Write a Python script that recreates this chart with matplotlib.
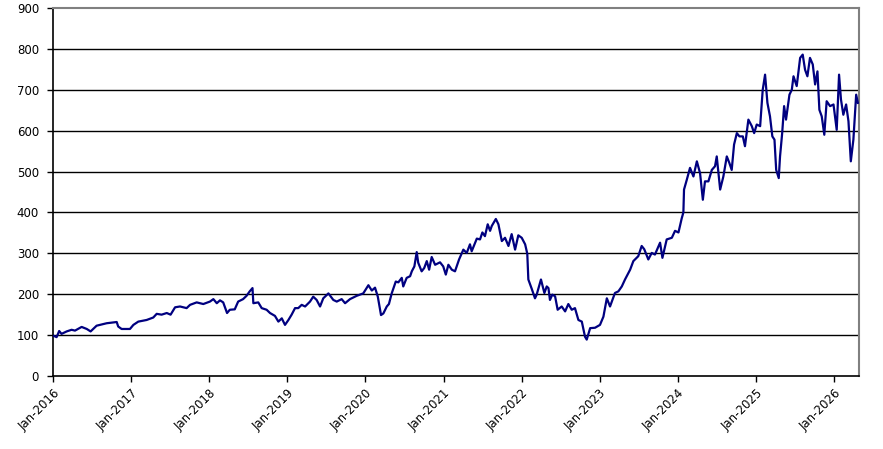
import numpy as np
import pandas as pd
import matplotlib
matplotlib.use("Agg")
import matplotlib.pyplot as plt
import matplotlib.dates as mdates

# values
dates = [
    "2016-01-05", "2016-01-18", "2016-01-30", "2016-02-10", "2016-03-05", "2016-03-28",
    "2016-04-13", "2016-05-14", "2016-06-07", "2016-06-25", "2016-07-23", "2016-09-08",
    "2016-10-25", "2016-11-01", "2016-11-17", "2016-12-26", "2017-01-11", "2017-02-03",
    "2017-03-14", "2017-04-14", "2017-04-30", "2017-05-23", "2017-06-16", "2017-07-04",
    "2017-07-25", "2017-08-17", "2017-09-17", "2017-10-03", "2017-11-03", "2017-12-04",
    "2018-01-04", "2018-01-20", "2018-02-05", "2018-02-20", "2018-03-07", "2018-03-25",
    "2018-04-07", "2018-04-30", "2018-05-16", "2018-06-08", "2018-06-24", "2018-07-09",
    "2018-07-22", "2018-07-26", "2018-08-18", "2018-09-03", "2018-09-26", "2018-10-12",
    "2018-11-04", "2018-11-20", "2018-12-06", "2018-12-21", "2019-01-06", "2019-01-21",
    "2019-02-06", "2019-02-21", "2019-03-09", "2019-03-25", "2019-04-17", "2019-05-02",
    "2019-05-18", "2019-06-03", "2019-06-18", "2019-07-12", "2019-08-04", "2019-08-20",
    "2019-09-12", "2019-09-28", "2019-10-21", "2019-11-21", "2019-12-22", "2020-01-15",
    "2020-01-31", "2020-02-15", "2020-02-28", "2020-03-14", "2020-03-25", "2020-04-10",
    "2020-04-20", "2020-05-03", "2020-05-22", "2020-06-03", "2020-06-19", "2020-06-26",
    "2020-07-12", "2020-07-28", "2020-08-05", "2020-08-17", "2020-08-28", "2020-09-04",
    "2020-09-20", "2020-10-02", "2020-10-14", "2020-10-25", "2020-11-06", "2020-11-22",
    "2020-12-15", "2020-12-30", "2021-01-11", "2021-01-23", "2021-02-08", "2021-02-23",
    "2021-03-14", "2021-04-03", "2021-04-19", "2021-05-04", "2021-05-12", "2021-06-05",
    "2021-06-20", "2021-07-01", "2021-07-13", "2021-07-26", "2021-08-06", "2021-08-14",
    "2021-09-02", "2021-09-14", "2021-09-30", "2021-10-15", "2021-10-31", "2021-11-15",
    "2021-12-01", "2021-12-16", "2022-01-01", "2022-01-17", "2022-01-27", "2022-02-01",
    "2022-02-17", "2022-03-04", "2022-03-12", "2022-04-01", "2022-04-17", "2022-04-28",
    "2022-05-06", "2022-05-13", "2022-05-24", "2022-06-06", "2022-06-18", "2022-07-07",
    "2022-07-23", "2022-08-07", "2022-08-23", "2022-09-07", "2022-09-23", "2022-10-09",
    "2022-10-24", "2022-11-01", "2022-11-17", "2022-12-10", "2023-01-02", "2023-01-18",
    "2023-02-03", "2023-02-18", "2023-03-13", "2023-03-29", "2023-04-14", "2023-04-29",
    "2023-05-23", "2023-06-07", "2023-06-30", "2023-07-16", "2023-07-28", "2023-08-16",
    "2023-09-01", "2023-09-16", "2023-10-10", "2023-10-21", "2023-11-10", "2023-12-04",
    "2023-12-19", "2024-01-04", "2024-01-19", "2024-01-27", "2024-01-30", "2024-02-12",
    "2024-02-27", "2024-03-14", "2024-03-30", "2024-04-14", "2024-04-27", "2024-05-07",
    "2024-05-23", "2024-06-08", "2024-06-23", "2024-07-01", "2024-07-09", "2024-07-17",
    "2024-08-01", "2024-08-17", "2024-08-29", "2024-09-09", "2024-09-20", "2024-10-03",
    "2024-10-15", "2024-10-31", "2024-11-10", "2024-11-26", "2024-12-12", "2024-12-23",
    "2025-01-04", "2025-01-20", "2025-02-01", "2025-02-12", "2025-02-23", "2025-03-07",
    "2025-03-18", "2025-03-28", "2025-04-05", "2025-04-17", "2025-04-23", "2025-05-03",
    "2025-05-12", "2025-05-21", "2025-06-06", "2025-06-17", "2025-06-25", "2025-07-10",
    "2025-07-26", "2025-08-07", "2025-08-18", "2025-08-29", "2025-09-10", "2025-09-23",
    "2025-10-04", "2025-10-15", "2025-10-24", "2025-11-04", "2025-11-16", "2025-11-27",
    "2025-12-13", "2025-12-29", "2026-01-13", "2026-01-24", "2026-02-02", "2026-02-13",
    "2026-02-26", "2026-03-09", "2026-03-20", "2026-04-01", "2026-04-14", "2026-04-22",
]
values = [
    98, 95, 110, 103, 109, 113,
    111, 120, 115, 109, 123, 129,
    132, 121, 115, 115, 125, 133,
    137, 143, 152, 150, 154, 150,
    168, 170, 166, 174, 180, 176,
    182, 188, 178, 185, 180, 154,
    162, 163, 182, 188, 196, 207,
    215, 178, 180, 166, 162, 154,
    147, 133, 141, 125, 137, 150,
    166, 166, 174, 170, 182, 194,
    186, 170, 190, 202, 186, 182,
    188, 178, 188, 196, 202, 222,
    209, 216, 194, 149, 153, 170,
    176, 202, 231, 229, 240, 219,
    240, 244, 256, 268, 303, 277,
    256, 264, 281, 260, 291, 272,
    278, 268, 248, 272, 260, 256,
    285, 309, 301, 322, 305, 336,
    334, 351, 342, 371, 355, 367,
    384, 371, 330, 338, 318, 347,
    309, 344, 338, 322, 299, 236,
    213, 190, 199, 236, 203, 219,
    215, 186, 199, 195, 162, 170,
    158, 176, 162, 166, 137, 133,
    96, 89, 117, 118, 125, 145,
    190, 170, 203, 207, 219, 236,
    260, 281, 293, 318, 310, 285,
    301, 297, 326, 289, 334, 338,
    355, 351, 385, 400, 456, 480,
    509, 488, 525, 496, 431, 476,
    476, 504, 513, 537, 496, 456,
    488, 537, 521, 504, 566, 594,
    586, 586, 562, 627, 611, 594,
    615, 611, 700, 737, 668, 635,
    586, 578, 504, 484, 537, 594,
    660, 627, 688, 700, 733, 709,
    778, 786, 749, 733, 778, 762,
    713, 745, 651, 635, 590, 672,
    660, 664, 602, 737, 676, 639,
    664, 623, 525, 578, 688, 668,
]
y_ticks = [0, 100, 200, 300, 400, 500, 600, 700, 800, 900]
x_years = list(range(2016, 2027))

dt = pd.to_datetime(dates)

fig = plt.figure(figsize=(8.83, 4.49), dpi=100)
ax = fig.add_axes([0.060, 0.1626, 0.913, 0.8196])

for v in y_ticks[1:-1]:
    ax.axhline(v, color="black", lw=1, zorder=1)

ax.plot(dt, values, color="#000080", lw=1.6, zorder=3)

ax.set_ylim(0, 900)
ax.set_yticks(y_ticks)
ax.set_xlim(pd.Timestamp("2016-01-01"), pd.Timestamp("2026-04-28"))
ax.set_xticks([pd.Timestamp(f"{y}-01-01") for y in x_years])
ax.xaxis.set_major_formatter(mdates.DateFormatter("%b-%Y"))

for s in ["top", "right"]:
    ax.spines[s].set_color("#808080")
    ax.spines[s].set_linewidth(1.5)
for s in ["left", "bottom"]:
    ax.spines[s].set_color("black")
    ax.spines[s].set_linewidth(1.2)

ax.tick_params(axis="both", direction="out", length=4, width=1, labelsize=8.5, colors="black")
ax.tick_params(axis="y", pad=6)
plt.setp(ax.get_xticklabels(), rotation=45, ha="right", rotation_mode="anchor")

fig.savefig("out.png", dpi=100)
